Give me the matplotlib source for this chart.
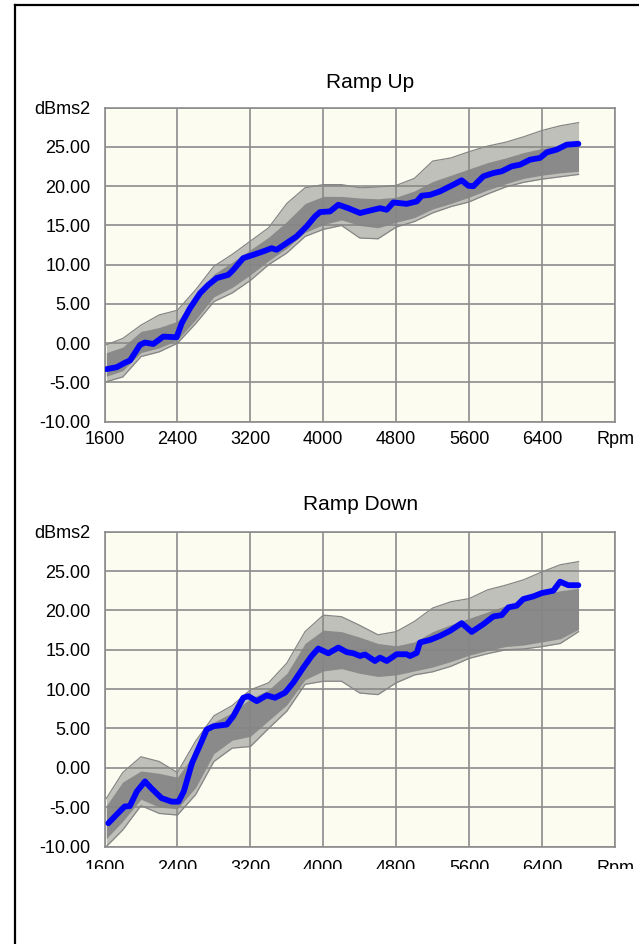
import numpy as np
import matplotlib
matplotlib.use("Agg")
import matplotlib.pyplot as plt
from matplotlib.patches import Rectangle
from matplotlib.lines import Line2D

plt.rcParams["font.family"] = ["Liberation Sans", "DejaVu Sans"]

W, H = 639, 944

# --- data ---
x_ticks = [1600, 2400, 3200, 4000, 4800, 5600, 6400, 7200]
x_labels = ["1600", "2400", "3200", "4000", "4800", "5600", "6400", "Rpm"]
y_ticks = [-10, -5, 0, 5, 10, 15, 20, 25, 30]
y_labels = ["-10.00", "-5.00", "0.00", "5.00", "10.00", "15.00", "20.00", "25.00", "dBms2"]

env_rpm = [1620, 1800, 2000, 2200, 2400, 2600, 2800, 3000, 3200, 3400, 3600, 3800, 4000, 4200,
           4400, 4600, 4800, 5000, 5200, 5400, 5600, 5800, 6000, 6200, 6400, 6600, 6800]

# ramp up: spread of the individual runs (grey) and the highlighted run (blue)
up_env_lo = [-4.9, -4.3, -1.7, -1.1, 0.0, 2.5, 5.3, 6.4, 8.0, 10.0, 11.5, 13.6, 14.5, 15.0,
             13.4, 13.3, 14.8, 15.5, 16.6, 17.4, 18.0, 19.0, 19.9, 20.5, 20.9, 21.2, 21.5]
up_env_hi = [-0.2, 0.6, 2.3, 3.6, 4.2, 6.8, 9.8, 11.3, 13.0, 14.7, 17.8, 19.8, 20.2, 20.2,
             19.8, 19.9, 20.1, 21.0, 23.2, 23.6, 24.4, 25.1, 25.6, 26.3, 27.1, 27.7, 28.1]
up_core_lo = [-4.2, -3.5, -1.2, -0.6, 0.4, 3.0, 5.9, 7.1, 8.7, 10.5, 12.1, 14.1, 15.1, 15.7,
              15.0, 14.7, 15.4, 16.0, 17.1, 17.8, 18.6, 19.5, 20.3, 21.0, 21.4, 21.7, 21.9]
up_core_hi = [-1.2, -0.5, 1.5, 2.0, 2.8, 5.8, 8.8, 10.3, 11.9, 13.5, 15.5, 17.8, 18.7, 18.7,
              18.5, 18.4, 18.6, 19.4, 20.6, 21.4, 22.2, 23.0, 23.6, 24.3, 24.8, 25.2, 25.4]
up_rpm = [1624, 1734, 1825, 1880, 1989, 2044, 2135, 2245, 2391, 2447, 2538, 2648, 2739, 2830,
          2958, 3013, 3122, 3232, 3342, 3433, 3488, 3598, 3707, 3817, 3909, 3964, 4074, 4165,
          4274, 4403, 4513, 4622, 4696, 4769, 4915, 5025, 5080, 5171, 5280, 5426, 5518, 5591,
          5646, 5756, 5866, 5957, 6067, 6158, 6268, 6377, 6451, 6560, 6670, 6798]
up_val = [-3.3, -3.06, -2.48, -2.2, -0.22, 0.08, -0.1, 0.84, 0.76, 2.55, 4.46, 6.37, 7.44, 8.29,
          8.71, 9.35, 10.84, 11.26, 11.7, 12.1, 11.9, 12.75, 13.6, 14.87, 16.15, 16.7, 16.79, 17.64,
          17.2, 16.58, 16.9, 17.2, 17.0, 17.93, 17.75, 18.06, 18.79, 18.9, 19.34, 20.19, 20.75, 20.06,
          20.0, 21.26, 21.68, 21.9, 22.53, 22.74, 23.38, 23.6, 24.31, 24.66, 25.29, 25.4]

# ramp down
dn_env_lo = [-10.0, -7.9, -4.8, -5.8, -6.0, -3.4, 0.8, 2.5, 2.7, 5.0, 7.2, 10.6, 11.0, 11.0,
             9.5, 9.3, 10.8, 11.8, 12.2, 12.9, 13.9, 14.5, 15.0, 15.1, 15.4, 15.8, 17.3]
dn_env_hi = [-3.9, -0.6, 1.4, 0.8, -0.6, 3.4, 6.6, 7.9, 9.9, 10.8, 13.3, 17.3, 19.4, 19.2,
             18.1, 16.9, 17.3, 18.6, 20.3, 21.1, 21.5, 22.6, 23.2, 23.9, 24.9, 25.8, 26.2]
dn_core_lo = [-9.0, -6.8, -4.0, -5.0, -5.2, -2.5, 1.8, 3.5, 4.0, 6.0, 8.0, 11.2, 12.3, 12.6,
              12.0, 11.6, 11.8, 12.3, 12.8, 13.5, 14.3, 14.9, 15.4, 15.6, 16.0, 16.4, 17.6]
dn_core_hi = [-4.8, -1.8, -0.4, -0.7, -1.2, 2.0, 5.8, 7.0, 8.8, 9.9, 12.0, 15.8, 17.5, 17.3,
              16.6, 15.8, 15.5, 16.0, 17.3, 18.2, 19.0, 19.8, 20.6, 21.3, 22.0, 22.5, 22.8]
dn_rpm = [1642, 1730, 1820, 1878, 1955, 2044, 2112, 2225, 2337, 2412, 2470, 2560, 2650, 2721,
          2795, 2941, 3013, 3122, 3178, 3270, 3379, 3470, 3580, 3671, 3781, 3872, 3945, 4055,
          4165, 4257, 4330, 4403, 4457, 4567, 4622, 4696, 4805, 4915, 4951, 5025, 5061, 5171,
          5280, 5390, 5518, 5628, 5756, 5866, 5957, 6030, 6121, 6194, 6304, 6396, 6523, 6597,
          6688, 6798]
dn_val = [-7.04, -5.98, -4.92, -4.86, -3.0, -1.73, -2.58, -3.85, -4.3, -4.3, -3.0, 0.6, 2.95, 4.86,
          5.28, 5.49, 6.56, 8.9, 9.1, 8.47, 9.2, 8.9, 9.54, 10.82, 12.73, 14.21, 15.15, 14.55,
          15.28, 14.7, 14.55, 14.21, 14.4, 13.57, 14.0, 13.57, 14.43, 14.43, 14.2, 14.6, 15.92, 16.25,
          16.76, 17.4, 18.38, 17.27, 18.25, 19.23, 19.4, 20.38, 20.6, 21.44, 21.78, 22.2, 22.5, 23.65,
          23.2, 23.2]

GRID = "#8c8c8c"
RUNS = "#858585"
BG = "#fcfcf0"


def draw_panel(ax, lo, hi, clo, chi, rpm, val, xpad):
    ax.set_facecolor(BG)
    ax.fill_between(env_rpm, lo, hi, color=RUNS, alpha=0.5, lw=0, zorder=2)
    ax.fill_between(env_rpm, clo, chi, color=RUNS, alpha=0.9, lw=0, zorder=3)
    ax.plot(env_rpm, lo, color=RUNS, lw=0.9, zorder=3)
    ax.plot(env_rpm, hi, color=RUNS, lw=0.9, zorder=3)
    ax.plot(rpm, val, color="#0000ff", lw=4.2, solid_capstyle="round", zorder=5)
    ax.set_xlim(1600, 7200)
    ax.set_ylim(-10, 30)
    ax.set_xticks(x_ticks)
    ax.set_xticklabels(x_labels)
    ax.set_yticks(y_ticks)
    ax.set_yticklabels(y_labels)
    ax.tick_params(length=0, labelsize=13, colors="black")
    ax.tick_params(axis="y", pad=10)
    ax.tick_params(axis="x", pad=xpad)
    ax.grid(True, color=GRID, lw=1.2)
    ax.set_axisbelow(True)
    for s in ax.spines.values():
        s.set_color(GRID)
        s.set_linewidth(1.2)


fig = plt.figure(figsize=(W / 100, H / 100), dpi=100)
ax1 = fig.add_axes([104.5 / W, 1 - 421.7 / H, 510.5 / W, 314 / H])
ax2 = fig.add_axes([104.5 / W, 1 - 846.5 / H, 510.5 / W, 314.8 / H])
draw_panel(ax1, up_env_lo, up_env_hi, up_core_lo, up_core_hi, up_rpm, up_val, 6.5)
draw_panel(ax2, dn_env_lo, dn_env_hi, dn_core_lo, dn_core_hi, dn_rpm, dn_val, 10)

fig.text(370 / W, 1 - 82 / H, "Ramp Up", ha="center", va="center", fontsize=15)
fig.text(361 / W, 1 - 505 / H, "Ramp Down", ha="center", va="center", fontsize=15)

# the lower chart's x labels are cut off by the frame below it
fig.patches.append(Rectangle((20 / W, 0), 1, 1 - 869 / H, transform=fig.transFigure,
                             facecolor="white", edgecolor="none", zorder=10))
# outer frame (only top and left edges are in view)
fig.lines.append(Line2D([15 / W, 15 / W], [0, 1 - 4.5 / H], transform=fig.transFigure,
                        color="black", lw=1.6, zorder=11))
fig.lines.append(Line2D([15 / W, 1], [1 - 4.5 / H, 1 - 4.5 / H], transform=fig.transFigure,
                        color="black", lw=1.6, zorder=11))

fig.savefig("out.png", dpi=100)
